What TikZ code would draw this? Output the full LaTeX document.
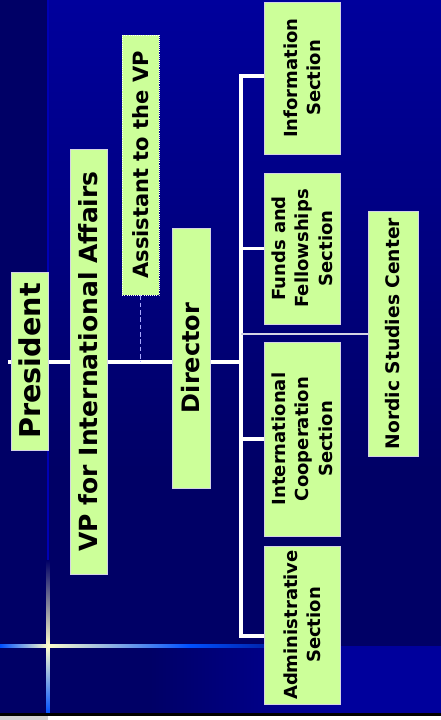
\documentclass[tikz,border=0pt]{standalone}
\usepackage{fontspec}
\setmainfont{DejaVu Sans}
\usepackage{xcolor}
\usepackage{tikz}
\definecolor{orgnavy}{HTML}{000066}
\definecolor{orgblue}{HTML}{00009C}
\definecolor{orgrim}{HTML}{0000B4}
\definecolor{orggreen}{HTML}{CCFF99}
\definecolor{orgedge}{HTML}{D4D4E4}
\definecolor{orgglow}{HTML}{FFFFCC}
\definecolor{orgspark}{HTML}{0050FF}
\definecolor{orgdash}{HTML}{A8A8FF}
\pgfdeclarelayer{backdrop}
\pgfdeclarelayer{wires}
\pgfsetlayers{backdrop,wires,main}

\begin{document}
\begin{tikzpicture}[x=0.75pt,y=-0.75pt,
  orgbox/.style={draw=orgedge,line width=0.6pt,fill=orggreen,rotate=90,inner sep=0pt,
    text=black,align=center},
  secbox/.style={orgbox,minimum height=57pt,font=\bfseries\fontsize{13.5}{17.5}\selectfont},
  orgline/.style={draw=white,line width=2.6pt},
  orgthin/.style={draw=orgedge,line width=1.5pt}]
\useasboundingbox (0,0) rectangle (441,720);
\begin{pgfonlayer}{backdrop}
\fill[orgnavy] (0,0) rectangle (441,720);
\shade[top color=orgblue,bottom color=orgnavy] (48,0) rectangle (441,470);
\shade[left color=orgnavy,right color=orgblue] (150,646) rectangle (340,713);
\fill[orgblue] (340,646) rectangle (441,713);
\draw[orgrim,line width=0.8pt] (48,0) -- (48,713);
\shade[top color=orgnavy,bottom color=orgglow] (46.5,560) rectangle (49.5,646);
\shade[top color=orgglow,bottom color=orgspark] (46.5,646) rectangle (49.5,713);
\shade[left color=orgspark,right color=orgglow] (0,644.5) rectangle (48,647.5);
\shade[left color=orgglow,right color=orgnavy,middle color=orgspark] (48,644.5) rectangle (330,647.5);
\fill[black] (0,713) rectangle (441,716);
\fill[white] (48,716) rectangle (441,720);
\fill[gray!35] (0,716) rectangle (48,720);
\end{pgfonlayer}

\node[orgbox,minimum width=133.5pt,minimum height=27.75pt,font=\bfseries\fontsize{21.5}{25}\selectfont] (pres) at (29.5,361) {President};
\node[orgbox,minimum width=318.75pt,minimum height=27.75pt,font=\bfseries\fontsize{18.75}{22}\selectfont] (vp) at (88.5,361.5) {VP for International Affairs};
\node[orgbox,draw=white,densely dotted,minimum width=195pt,minimum height=27.75pt,font=\bfseries\fontsize{15.75}{19}\selectfont] (asst) at (140.5,165) {Assistant to the VP};
\node[orgbox,minimum width=195pt,minimum height=28.5pt,font=\bfseries\fontsize{18}{22}\selectfont] (dir) at (191,358) {Director};
\node[secbox,minimum width=114pt] (info) at (302,78) {Information\\Section};
\node[secbox,minimum width=113.25pt] (funds) at (302,248.5) {Funds and\\Fellowships\\Section};
\node[secbox,minimum width=145.5pt] (intl) at (302,439) {International\\Cooperation\\Section};
\node[secbox,minimum width=118.5pt] (admin) at (302,625) {Administrative\\Section};
\node[orgbox,minimum width=183.75pt,minimum height=37.5pt,font=\bfseries\fontsize{14}{17}\selectfont] (nordic) at (393,333.5) {Nordic Studies Center};

\coordinate (ttop) at (241,76);
\coordinate (tbot) at (241,636);
\coordinate (mainl) at (8,362);
\begin{pgfonlayer}{wires}
\draw[orgline] (mainl) -- (mainl -| ttop);
\draw[orgline] (info.north |- ttop) -- (ttop) -- (tbot) -- (tbot -| admin.north);
\draw[orgline] (ttop |- funds.north) -- (funds.north);
\draw[orgline] (ttop |- intl.north) -- (intl.north);
\draw[orgthin] (ttop |- nordic.north) -- (nordic.north);
\draw[orgdash,line width=0.7pt,dash pattern=on 3.5pt off 2pt] (asst.west) -- (asst.west |- mainl);
\end{pgfonlayer}
\end{tikzpicture}
\end{document}
